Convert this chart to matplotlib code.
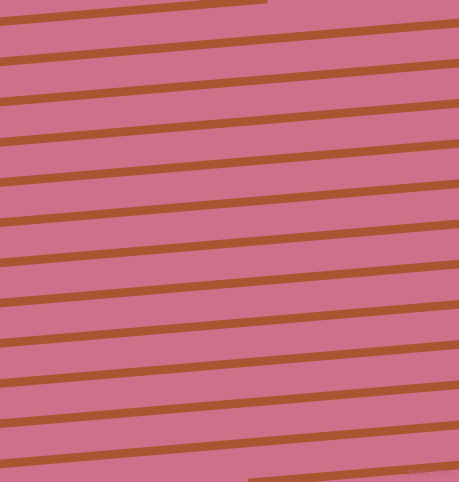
import matplotlib
matplotlib.use("Agg")
import matplotlib.pyplot as plt
import numpy as np

# stripe centre heights (px from top) at the left edge
left_y = [-18.5, 21.7, 61.9, 102.1, 142.3, 182.5, 222.7, 262.9, 303.1, 343.3, 383.5, 423.7, 463.9, 504.1]
drop = 39.0  # how much each stripe rises across the full width
width_px, height_px = 459, 482

bg_color = "#CF6F8A"
stripe_color = "#A85532"

fig = plt.figure(figsize=(width_px / 100, height_px / 100), dpi=100)
fig.patch.set_facecolor(bg_color)
ax = fig.add_axes([0, 0, 1, 1])
ax.set_facecolor(bg_color)
ax.set_xlim(0, width_px)
ax.set_ylim(height_px, 0)
ax.axis("off")

xs = np.array([-10, width_px + 10])
for y in left_y:
    ax.plot(xs, y - drop * xs / width_px, color=stripe_color,
            linewidth=6.2, solid_capstyle="butt")

ax.text(452, 475, "pixlis.com", color="#B65E77", fontsize=6.5,
        ha="right", va="baseline", alpha=0.9)

fig.savefig("out.png", dpi=100, facecolor=bg_color)
